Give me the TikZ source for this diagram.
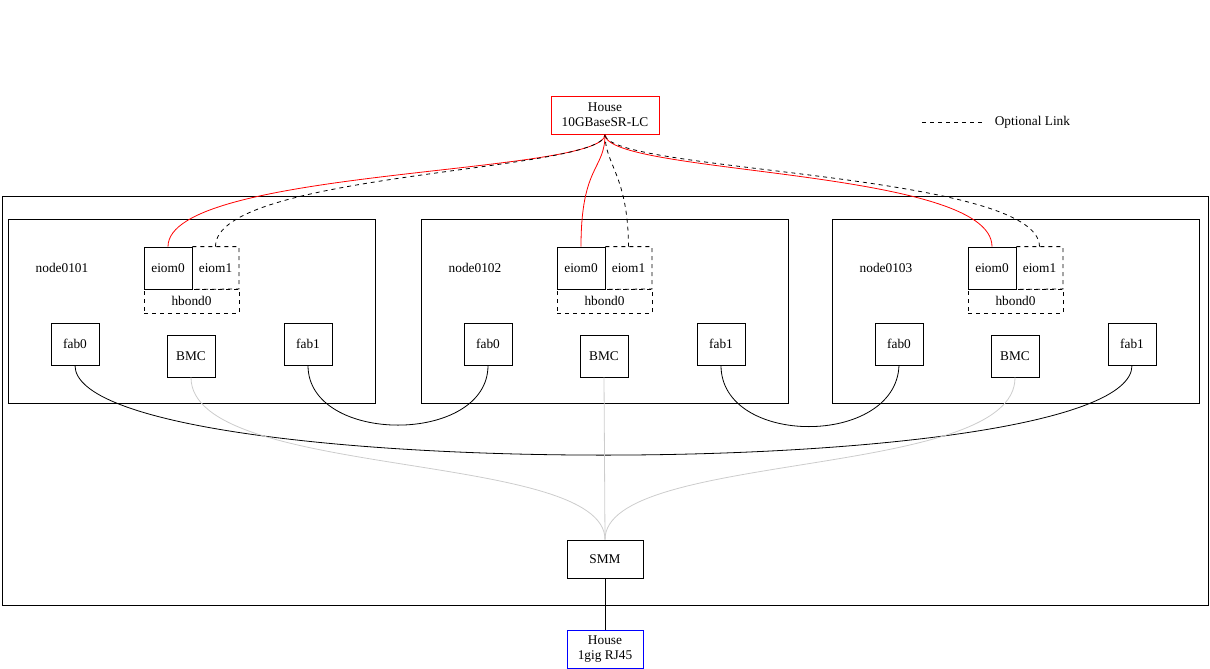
\documentclass[tikz,border=0pt]{standalone}
\usepackage{fontspec}
\setmainfont{Liberation Serif}
\usetikzlibrary{positioning, calc}

\begin{document}
\begin{tikzpicture}[
  x=0.75pt, y=-0.75pt,
  font=\fontsize{10}{11}\selectfont,
  box/.style = {draw, semithick, minimum width=36pt, minimum height=31.5pt, inner sep=0pt},
  dbox/.style = {box, dashed},
  frame/.style = {draw, semithick},
  house/.style = {draw, semithick, minimum width=57pt, minimum height=28.5pt, inner sep=0pt, align=center},
  uplink/.style = {red, semithick},
  optlink/.style = {semithick, dashed},
  fablink/.style = {semithick},
  mgmtlink/.style = {gray!40, semithick}
]
\useasboundingbox (0,0) rectangle (1210,668);

% ======================================================
% House uplinks and legend
% ======================================================
\node[house, draw=red, minimum width=81pt] (house) at (605,115) {House\\10GBaseSR-LC};
\coordinate (leg_a) at (922,122);
\coordinate (leg_b) at (982,122);
\draw[optlink] (leg_a) -- (leg_b) node[right=6pt] {Optional Link};

% Chassis
\draw[frame] (2,196) rectangle (1208,605);

% ======================================================
% Three nodes
% ======================================================
\foreach \i/\dx in {1/0, 2/413, 3/824} {
  \draw[frame] (8+\dx,219) rectangle (375+\dx,403);
  \node (label\i) at (62+\dx,268) {node010\i};
  \node[box, minimum height=31.5pt] (eiom0\i) at (168+\dx,268) {eiom0};
  \node[dbox, minimum width=35pt, draw=none] (eiom1\i) at (215.5+\dx,268) {eiom1};
  \draw[semithick, dashed] (eiom0\i.north east) -| (239+\dx,289) -- (eiom0\i.south east);
  \node[dbox, minimum width=71.25pt, minimum height=18pt] (hbond\i) at (191.5+\dx,301) {hbond0};
  \node[box] (fabA\i) at (75+\dx,344) {fab0};
  \node[box] (bmc\i) at (191+\dx,356) {BMC};
  \node[box] (fabB\i) at (308+\dx,344) {fab1};
}

% ======================================================
% SMM and management uplink
% ======================================================
\node[house, minimum width=57pt] (smm) at (605,559) {SMM};
\node[house, draw=blue] (mgmt) at (605,649) {House\\1gig RJ45};
\draw[fablink] (smm) -- (mgmt);

% Uplinks to house
\draw[uplink] (eiom01.north) .. controls (168,168) and (605,175) .. (house.south);
\draw[optlink] (eiom11.north) .. controls (215,172) and (605,172) .. (house.south);
\draw[uplink] (eiom02.north) .. controls (581,165) and (605,170) .. (house.south);
\draw[optlink] (eiom12.north) .. controls (628,175) and (605,165) .. (house.south);
\draw[uplink] (eiom03.north) .. controls (992,168) and (605,175) .. (house.south);
\draw[optlink] (eiom13.north) .. controls (1039,172) and (605,172) .. (house.south);

% Fabric links
\draw[fablink] (fabA1.south) .. controls (75,485) and (1132,485) .. (fabB3.south);
\draw[fablink] (fabB1.south) .. controls (308,445) and (488,445) .. (fabA2.south);
\draw[fablink] (fabB2.south) .. controls (721,447) and (896,447) .. (fabA3.south);

% Management links
\draw[mgmtlink] (bmc1.south) .. controls (191,480) and (605,450) .. (smm.north);
\draw[mgmtlink] (bmc2.south) -- (smm.north);
\draw[mgmtlink] (bmc3.south) .. controls (1016,480) and (605,450) .. (smm.north);
\end{tikzpicture}
\end{document}
